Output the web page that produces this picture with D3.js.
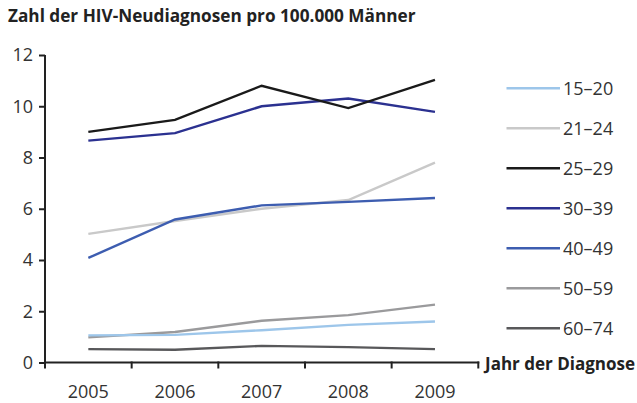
<!DOCTYPE html>
<html><head><meta charset="utf-8">
<script src="https://cdn.jsdelivr.net/npm/d3@7"></script>
<style>body{margin:0;background:#fff;} svg{display:block;}</style>
</head><body>
<svg id="c" width="637" height="403"></svg>
<script>
const years = ["2005","2006","2007","2008","2009"];
const yTicks = [0,2,4,6,8,10,12];
const seriesNames = ["15–20","21–24","25–29","30–39","40–49","50–59","60–74"];
const seriesColors = ["#9dc6ea","#c9c9c9","#1a1a1a","#2b3190","#3d5db0","#9a9a9c","#58585a"];
const s15_20 = [1.06,1.08,1.26,1.47,1.60];
const s21_24 = [5.02,5.52,6.00,6.34,7.80];
const s25_29 = [9.00,9.47,10.80,9.93,11.03];
const s30_39 = [8.66,8.95,10.00,10.30,9.78];
const s40_49 = [4.08,5.58,6.13,6.27,6.42];
const s50_59 = [0.98,1.19,1.63,1.85,2.26];
const s60_74 = [0.52,0.50,0.65,0.60,0.52];
const seriesValues = [s15_20,s21_24,s25_29,s30_39,s40_49,s50_59,s60_74];
const drawOrder = [1,5,0,6,4,3,2];

const svg = d3.select("#c");
const font = "'Open Sans', sans-serif";
const x = d3.scaleBand().domain(years).range([45,478.3]);
const y = d3.scaleLinear().domain([0,12]).range([362.5,55]);

svg.append("text").attr("x",8).attr("y",22).attr("font-family",font)
  .attr("font-weight","bold").attr("font-size",17.2).attr("fill","#222")
  .text("Zahl der HIV-Neudiagnosen pro 100.000 Männer");

// y axis
const ya = svg.append("g").attr("transform","translate(45,0)")
  .call(d3.axisLeft(y).tickValues(yTicks).tickSize(6).tickPadding(6));
ya.select(".domain").attr("stroke","#222").attr("stroke-width",2).attr("d","M0,55V362.5");
ya.selectAll(".tick line").attr("stroke","#222").attr("stroke-width",2);
ya.selectAll(".tick text").attr("font-family",font).attr("font-size",18).attr("fill","#333");

// x axis
const xa = svg.append("g").attr("transform","translate(0,362.5)");
xa.append("line").attr("x1",44).attr("x2",479.3).attr("stroke","#222").attr("stroke-width",2);
const bounds = years.map(d=>x(d)).concat([x.range()[1]]);
xa.selectAll("line.t").data(bounds).join("line").attr("class","t")
  .attr("x1",d=>d).attr("x2",d=>d).attr("y1",-1).attr("y2",6)
  .attr("stroke","#222").attr("stroke-width",2);
xa.selectAll("text").data(years).join("text")
  .attr("x",d=>x(d)+x.bandwidth()/2).attr("y",35).attr("text-anchor","middle")
  .attr("font-family",font).attr("font-size",18).attr("fill","#333").text(d=>d);

svg.append("text").attr("x",485).attr("y",369.5).attr("font-family",font)
  .attr("font-weight","bold").attr("font-size",17).attr("fill","#222").text("Jahr der Diagnose");

// lines
const line = d3.line().x((d,i)=>x(years[i])+x.bandwidth()/2).y(d=>y(d));
svg.append("g").selectAll("path").data(drawOrder).join("path")
  .attr("d",i=>line(seriesValues[i])).attr("fill","none")
  .attr("stroke",i=>seriesColors[i]).attr("stroke-width",2.4);

// legend
const lg = svg.append("g");
const ly = d3.scalePoint().domain(seriesNames).range([88.3,328.3]);
seriesNames.forEach((n,i)=>{
  lg.append("line").attr("x1",506.5).attr("x2",560).attr("y1",ly(n)).attr("y2",ly(n))
    .attr("stroke",seriesColors[i]).attr("stroke-width",2.4);
  lg.append("text").attr("x",563).attr("y",ly(n)+6.5).attr("font-family",font)
    .attr("font-size",18).attr("fill","#333").text(n);
});
</script>
</body></html>
